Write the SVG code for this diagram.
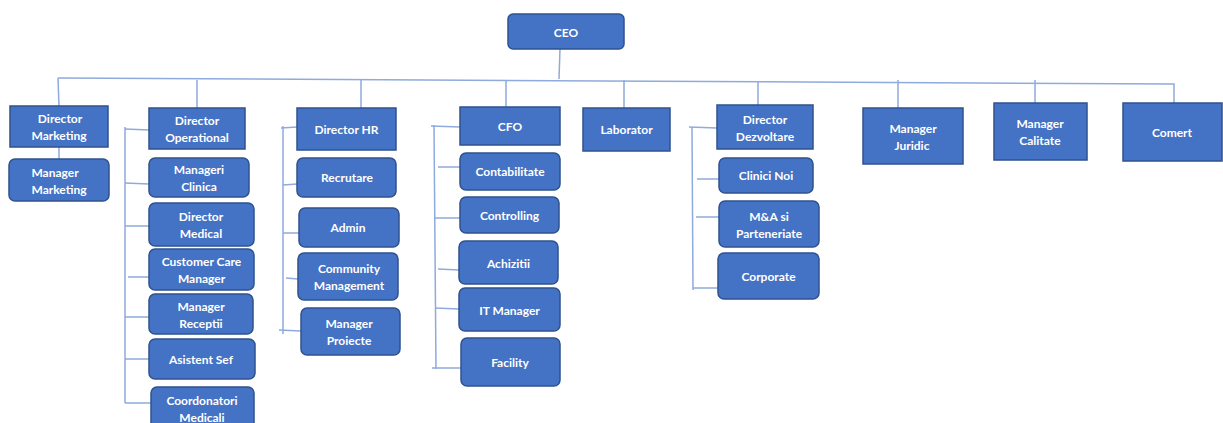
<svg xmlns="http://www.w3.org/2000/svg" width="1223" height="423" viewBox="0 0 1223 423">
<style>
.b{fill:#4472C4;stroke:#2F528F;stroke-width:1.5}
.t{fill:#fff;font-family:Lato,"Liberation Sans",sans-serif;font-weight:bold;font-size:12px;text-anchor:middle;dominant-baseline:central}
.c line,.c polyline{stroke:#8FAADC;stroke-width:1.5;fill:none}
</style>
<rect width="1223" height="423" fill="#fff"/>
<g class="c" id="connectors">
<line x1="560" y1="49" x2="559" y2="79"/>
<polyline points="58,78 600,81 1174,84 1174,103"/>
<line x1="58" y1="78" x2="59" y2="106"/>
<line x1="59" y1="147" x2="59" y2="159"/>
<line x1="197" y1="80" x2="197" y2="108"/>
<line x1="361" y1="80" x2="361" y2="108"/>
<line x1="506" y1="80" x2="506" y2="107"/>
<line x1="624" y1="80" x2="624" y2="108"/>
<line x1="758" y1="81" x2="758" y2="105"/>
<line x1="898" y1="80" x2="898" y2="108"/>
<line x1="1035" y1="80" x2="1035" y2="103"/>
<line x1="125" y1="127" x2="125" y2="403"/>
<line x1="125" y1="129" x2="149" y2="130"/>
<line x1="125" y1="183" x2="149" y2="184"/>
<line x1="125" y1="226" x2="149" y2="226"/>
<line x1="128" y1="277" x2="149" y2="277"/>
<line x1="125" y1="317" x2="149" y2="317"/>
<line x1="125" y1="359" x2="149" y2="359"/>
<line x1="125" y1="403" x2="151" y2="403"/>
<line x1="283" y1="126" x2="283" y2="334"/>
<line x1="281" y1="128" x2="297" y2="127"/>
<line x1="283" y1="185" x2="297" y2="184"/>
<line x1="283" y1="233" x2="299" y2="233"/>
<line x1="286" y1="278" x2="298" y2="279"/>
<line x1="279" y1="330" x2="301" y2="331"/>
<line x1="434" y1="125" x2="436" y2="369"/>
<line x1="431" y1="126" x2="460" y2="127"/>
<line x1="438" y1="167" x2="460" y2="167"/>
<line x1="435" y1="218" x2="460" y2="218"/>
<line x1="438" y1="269" x2="459" y2="270"/>
<line x1="435" y1="308" x2="459" y2="309"/>
<line x1="432" y1="368" x2="461" y2="368"/>
<line x1="692" y1="127" x2="693" y2="290"/>
<line x1="689" y1="127" x2="717" y2="128"/>
<line x1="697" y1="179" x2="719" y2="179"/>
<line x1="696" y1="217" x2="719" y2="217"/>
<line x1="693" y1="288" x2="718" y2="288"/>
</g>
<g id="n-ceo"><rect class="b" x="508" y="14" width="116" height="35" rx="5"/><text class="t" x="566" y="32">CEO</text></g>
<g id="n-dir-marketing"><rect class="b" x="10" y="106" width="98" height="41"/><text class="t" x="59" y="126.5"><tspan x="60" dy="-8.5">Director</tspan><tspan x="59" dy="17">Marketing</tspan></text></g>
<g id="n-mgr-marketing"><rect class="b" x="9" y="159" width="100" height="42" rx="6"/><text class="t" x="59" y="180"><tspan x="55" dy="-8.5">Manager</tspan><tspan x="59" dy="17">Marketing</tspan></text></g>
<g id="n-dir-operational"><rect class="b" x="149" y="108" width="96" height="41"/><text class="t" x="197" y="128.5"><tspan x="197" dy="-8.5">Director</tspan><tspan x="197" dy="17">Operational</tspan></text></g>
<g id="n-manageri-clinica"><rect class="b" x="149" y="158" width="100" height="39" rx="6"/><text class="t" x="199" y="177.5"><tspan x="199" dy="-8.5">Manageri</tspan><tspan x="199" dy="17">Clinica</tspan></text></g>
<g id="n-dir-medical"><rect class="b" x="149" y="203" width="105" height="43" rx="6"/><text class="t" x="201" y="224.5"><tspan x="201" dy="-8.5">Director</tspan><tspan x="201" dy="17">Medical</tspan></text></g>
<g id="n-customer-care"><rect class="b" x="149" y="249" width="105" height="41" rx="6"/><text class="t" x="201.5" y="269.5"><tspan x="201.5" dy="-8.5">Customer Care</tspan><tspan x="201.5" dy="17">Manager</tspan></text></g>
<g id="n-mgr-receptii"><rect class="b" x="149" y="294" width="104" height="40" rx="6"/><text class="t" x="201" y="314"><tspan x="201" dy="-8.5">Manager</tspan><tspan x="201" dy="17">Receptii</tspan></text></g>
<g id="n-asistent-sef"><rect class="b" x="149" y="339" width="106" height="40" rx="6"/><text class="t" x="201" y="359">Asistent Sef</text></g>
<g id="n-coordonatori"><rect class="b" x="151" y="387" width="103" height="46" rx="6"/><text class="t" x="202" y="408.5"><tspan x="202" dy="-8.5">Coordonatori</tspan><tspan x="202" dy="17">Medicali</tspan></text></g>
<g id="n-dir-hr"><rect class="b" x="297" y="108" width="99" height="42"/><text class="t" x="346.5" y="129">Director HR</text></g>
<g id="n-recrutare"><rect class="b" x="297" y="158" width="99" height="39" rx="6"/><text class="t" x="347" y="177.5">Recrutare</text></g>
<g id="n-admin"><rect class="b" x="299" y="208" width="100" height="39" rx="6"/><text class="t" x="348" y="227.5">Admin</text></g>
<g id="n-community"><rect class="b" x="298" y="253" width="100" height="47" rx="6"/><text class="t" x="349" y="276.5"><tspan x="349" dy="-8.5">Community</tspan><tspan x="349" dy="17">Management</tspan></text></g>
<g id="n-mgr-proiecte"><rect class="b" x="301" y="308" width="99" height="47" rx="6"/><text class="t" x="349" y="331.5"><tspan x="349" dy="-8.5">Manager</tspan><tspan x="349" dy="17">Proiecte</tspan></text></g>
<g id="n-cfo"><rect class="b" x="460" y="107" width="100" height="38"/><text class="t" x="510" y="126">CFO</text></g>
<g id="n-contabilitate"><rect class="b" x="460" y="153" width="100" height="37" rx="6"/><text class="t" x="510" y="171.5">Contabilitate</text></g>
<g id="n-controlling"><rect class="b" x="460" y="197" width="99" height="36" rx="6"/><text class="t" x="509.5" y="215">Controlling</text></g>
<g id="n-achizitii"><rect class="b" x="459" y="241" width="99" height="43" rx="6"/><text class="t" x="508.5" y="263">Achizitii</text></g>
<g id="n-it-manager"><rect class="b" x="459" y="288" width="101" height="43" rx="6"/><text class="t" x="509.5" y="310">IT Manager</text></g>
<g id="n-facility"><rect class="b" x="461" y="338" width="99" height="48" rx="6"/><text class="t" x="510" y="362">Facility</text></g>
<g id="n-laborator"><rect class="b" x="583" y="108" width="87" height="43"/><text class="t" x="626.5" y="129.5">Laborator</text></g>
<g id="n-dir-dezvoltare"><rect class="b" x="717" y="105" width="96" height="44"/><text class="t" x="765" y="127"><tspan x="765" dy="-8.5">Director</tspan><tspan x="765" dy="17">Dezvoltare</tspan></text></g>
<g id="n-clinici-noi"><rect class="b" x="719" y="158" width="94" height="35" rx="6"/><text class="t" x="766" y="175.5">Clinici Noi</text></g>
<g id="n-ma"><rect class="b" x="719" y="201" width="100" height="46" rx="6"/><text class="t" x="769" y="224"><tspan x="769" dy="-8.5">M&amp;A si</tspan><tspan x="769" dy="17">Parteneriate</tspan></text></g>
<g id="n-corporate"><rect class="b" x="718" y="253" width="101" height="46" rx="6"/><text class="t" x="768.5" y="276">Corporate</text></g>
<g id="n-mgr-juridic"><rect class="b" x="863" y="108" width="100" height="56"/><text class="t" x="913" y="136"><tspan x="913" dy="-8.5">Manager</tspan><tspan x="912" dy="17">Juridic</tspan></text></g>
<g id="n-mgr-calitate"><rect class="b" x="994" y="103" width="93" height="57"/><text class="t" x="1040" y="131.5"><tspan x="1040" dy="-8.5">Manager</tspan><tspan x="1040" dy="17">Calitate</tspan></text></g>
<g id="n-comert"><rect class="b" x="1123" y="103" width="99" height="58"/><text class="t" x="1172" y="132">Comert</text></g>
</svg>
